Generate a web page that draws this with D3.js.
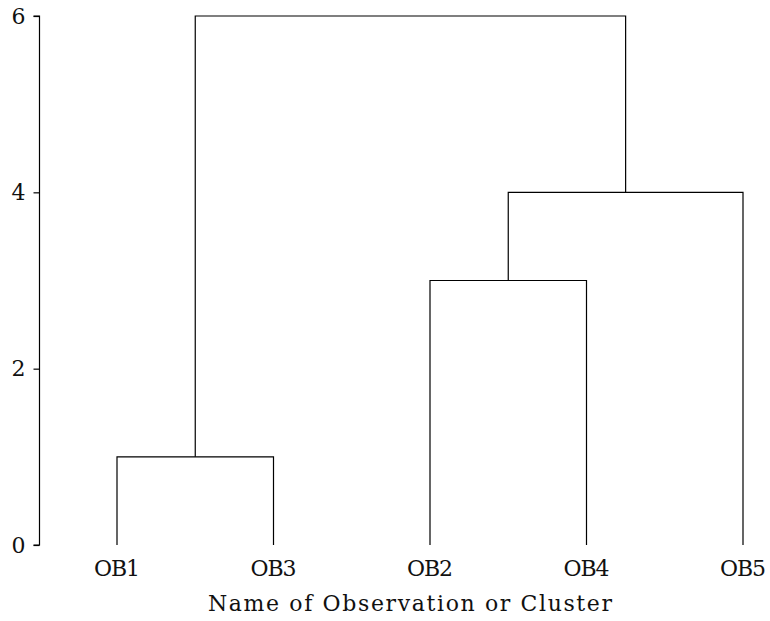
<!DOCTYPE html>
<html>
<head>
<meta charset="utf-8">
<script src="https://cdn.jsdelivr.net/npm/d3@7"></script>
<style>
html,body{margin:0;padding:0;background:#fff;}
svg{display:block;}
text{font-family:"DejaVu Serif","Liberation Serif",serif;fill:#111;}
</style>
</head>
<body>
<svg id="chart" width="770" height="621"></svg>
<script>
const leaves = ["OB1","OB3","OB2","OB4","OB5"];
const clusterNames = ["C1","C2","C3","C4"];
const mergeLeft = ["OB1","OB2","C2","C1"];
const mergeRight = ["OB3","OB4","OB5","C3"];
const mergeHeight = [1,3,4,6];
const yTicks = [0,2,4,6];
const xTitle = "Name of Observation or Cluster";

const svg = d3.select("#chart");
const x = d3.scalePoint().domain(leaves).range([117, 743]);
const y = d3.scaleLinear().domain([0,6]).range([545, 16]);

const pos = {};
leaves.forEach(l => pos[l] = {x: x(l), h: 0});
clusterNames.forEach((c,i) => {
  const a = pos[mergeLeft[i]], b = pos[mergeRight[i]];
  pos[c] = {x: (a.x + b.x)/2, h: mergeHeight[i]};
});

const g = svg.append("g");
clusterNames.forEach((c,i) => {
  const a = pos[mergeLeft[i]], b = pos[mergeRight[i]], h = mergeHeight[i];
  const path = d3.path();
  path.moveTo(a.x, y(a.h));
  path.lineTo(a.x, y(h));
  path.lineTo(b.x, y(h));
  path.lineTo(b.x, y(b.h));
  g.append("path").attr("d", path.toString())
    .attr("fill","none").attr("stroke","#000").attr("stroke-width",1.2);
});

// y axis
const yAxis = d3.axisLeft(y).tickValues(yTicks).tickSize(6).tickPadding(8).tickFormat(d3.format("d"));
const ya = svg.append("g").attr("transform","translate(39.5,0)").call(yAxis);
ya.select(".domain").attr("stroke","#000").attr("stroke-width",1.2).attr("d", `M-6,${y(6)}H0V${y(0)}H-6`);
ya.selectAll(".tick line").attr("stroke","#000").attr("stroke-width",1.2);
ya.selectAll(".tick text").style("font-family","'DejaVu Serif','Liberation Serif',serif")
  .style("font-size","22px").attr("fill","#111");

// x labels
svg.append("g").selectAll("text").data(leaves).join("text")
  .attr("x", d => x(d)).attr("y", 576)
  .attr("text-anchor","middle").style("font-size","22px")
  .attr("textLength", 46).attr("lengthAdjust","spacing").text(d => d);

svg.append("text").attr("x", 410).attr("y", 611).attr("text-anchor","middle")
  .style("font-size","22px").attr("textLength", 404).attr("lengthAdjust","spacing")
  .text(xTitle);
</script>
</body>
</html>
